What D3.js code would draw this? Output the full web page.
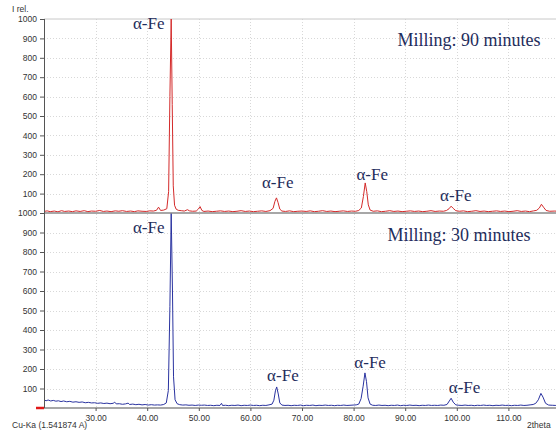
<!DOCTYPE html>
<html>
<head>
<meta charset="utf-8">
<script src="https://cdn.jsdelivr.net/npm/d3@7"></script>
<style>
  body { margin: 0; background: #fff; }
  svg { display: block; }
</style>
</head>
<body>
<svg width="556" height="434"></svg>
<script>
// 2theta range and tick labels
const xTicks = [30, 40, 50, 60, 70, 80, 90, 100, 110];
const yTicks = [100, 200, 300, 400, 500, 600, 700, 800, 900, 1000];

// Milling 90 minutes, [2theta, I rel.]
const mill90 = [
  [20, 8], [20.6, 11], [21.2, 7], [22, 10], [22.7, 6], [23.4, 12], [24, 8], [24.8, 10],
  [25.5, 7], [26.2, 11], [27, 8], [27.8, 12], [28.5, 7], [29.2, 10], [30, 9], [30.8, 13],
  [31.5, 8], [32.2, 10], [33, 7], [33.8, 11], [34.5, 9], [35.2, 12], [36, 8], [36.8, 10],
  [37.5, 7], [38.2, 11], [39, 9], [39.8, 8], [40.5, 11], [41.2, 10], [41.8, 14], [42.2, 30],
  [42.6, 13], [43.2, 15], [43.8, 22], [44.15, 110], [44.4, 600], [44.65, 1000], [44.85, 560],
  [45.05, 140], [45.3, 40], [45.6, 20], [46, 14], [46.6, 12], [47.2, 10], [47.8, 17], [48.2, 11],
  [48.8, 9], [49.5, 10], [49.9, 20], [50.25, 33], [50.6, 13], [51, 8], [51.8, 10], [52.6, 7],
  [53.4, 9], [54.2, 11], [55, 8], [55.8, 10], [56.6, 7], [57.4, 9], [58.2, 12], [59, 8],
  [59.8, 10], [60.6, 7], [61.4, 9], [62.2, 11], [63, 8], [63.8, 12], [64.4, 24], [64.75, 60],
  [65.05, 78], [65.35, 55], [65.7, 20], [66.1, 10], [66.8, 8], [67.6, 11], [68.4, 7], [69.2, 9],
  [70, 10], [70.8, 8], [71.6, 11], [72.4, 7], [73.2, 9], [74, 12], [74.8, 8], [75.6, 10],
  [76.4, 7], [77.2, 9], [78, 11], [78.8, 8], [79.6, 10], [80.4, 9], [81, 13], [81.5, 26],
  [81.9, 85], [82.25, 155], [82.55, 110], [82.85, 42], [83.2, 15], [83.8, 9], [84.6, 11], [85.4, 7],
  [86.2, 9], [87, 12], [87.8, 8], [88.6, 10], [89.4, 7], [90.2, 9], [91, 11], [91.8, 8],
  [92.6, 10], [93.4, 7], [94.2, 9], [95, 12], [95.8, 8], [96.6, 10], [97.4, 9], [98, 13],
  [98.5, 22], [98.9, 35], [99.3, 24], [99.8, 12], [100.5, 9], [101.3, 11], [102.1, 7], [102.9, 9],
  [103.7, 12], [104.5, 8], [105.3, 10], [106.1, 7], [106.9, 9], [107.7, 11], [108.5, 8], [109.3, 10],
  [110.1, 7], [110.9, 9], [111.7, 12], [112.5, 8], [113.3, 10], [114.1, 7], [114.9, 11], [115.5, 14],
  [116, 26], [116.4, 45], [116.8, 30], [117.3, 13], [118, 9], [119, 10], [120, 8]
];

// Milling 30 minutes, [2theta, I rel.]
const mill30 = [
  [20, 42], [20.4, 37], [20.8, 41], [21.3, 36], [21.8, 39], [22.3, 35], [22.8, 37], [23.3, 33],
  [23.8, 36], [24.4, 32], [25, 34], [25.6, 30], [26.2, 32], [26.8, 29], [27.4, 31], [28, 27],
  [28.6, 29], [29.2, 26], [29.8, 27], [30.4, 24], [31, 26], [31.6, 23], [32.2, 25], [32.8, 22],
  [33.4, 24], [33.7, 30], [34, 21], [34.6, 22], [35.2, 19], [35.8, 21], [36.3, 25], [36.6, 18],
  [37.2, 20], [37.8, 17], [38.4, 19], [39, 16], [39.6, 18], [40.2, 15], [40.8, 17], [41.4, 15],
  [42, 16], [42.6, 15], [43.2, 18], [43.7, 26], [44.1, 90], [44.4, 520], [44.65, 1000],
  [44.9, 600], [45.1, 160], [45.4, 42], [45.8, 22], [46.3, 17], [46.9, 15], [47.5, 16], [48.1, 14],
  [48.7, 15], [49.3, 13], [49.9, 15], [50.5, 14], [51.1, 15], [51.7, 13], [52.3, 14], [52.9, 12],
  [53.5, 14], [54.1, 13], [54.4, 24], [54.6, 13], [55.2, 14], [55.8, 12], [56.4, 14], [57, 13],
  [57.6, 15], [58.2, 12], [58.8, 14], [59.4, 13], [60, 15], [60.6, 13], [61.2, 14], [61.8, 12],
  [62.4, 14], [63, 13], [63.6, 16], [64.2, 20], [64.55, 40], [64.85, 88], [65.1, 108], [65.4, 72],
  [65.7, 26], [66.1, 15], [66.7, 13], [67.3, 14], [67.9, 12], [68.5, 14], [69.1, 13], [69.7, 15],
  [70.3, 12], [70.9, 14], [71.5, 13], [72.1, 15], [72.7, 12], [73.3, 14], [73.9, 13], [74.5, 15],
  [75.1, 13], [75.7, 14], [76.3, 12], [76.9, 14], [77.5, 13], [78.1, 15], [78.7, 13], [79.3, 14],
  [79.9, 15], [80.5, 16], [81, 20], [81.45, 48], [81.85, 112], [82.2, 180], [82.5, 135],
  [82.8, 52], [83.2, 20], [83.7, 14], [84.3, 13], [84.9, 15], [85.5, 13], [86.1, 14], [86.7, 12],
  [87.3, 14], [87.9, 13], [88.5, 15], [89.1, 12], [89.7, 14], [90.3, 13], [90.9, 15], [91.5, 13],
  [92.1, 14], [92.7, 12], [93.3, 14], [93.9, 13], [94.5, 15], [95.1, 13], [95.7, 14], [96.3, 13],
  [96.9, 15], [97.5, 14], [98.1, 18], [98.55, 36], [98.9, 50], [99.3, 30], [99.8, 16], [100.4, 14],
  [101, 13], [101.6, 15], [102.2, 13], [102.8, 14], [103.4, 12], [104, 14], [104.6, 13], [105.2, 15],
  [105.8, 13], [106.4, 14], [107, 12], [107.6, 14], [108.2, 13], [108.8, 15], [109.4, 13], [110, 14],
  [110.6, 12], [111.2, 14], [111.8, 13], [112.4, 15], [113, 13], [113.6, 14], [114.2, 16], [114.8, 18],
  [115.3, 24], [115.8, 42], [116.3, 75], [116.7, 56], [117.2, 24], [117.8, 15], [118.5, 14],
  [119.2, 13], [120, 12]
];

// peak labels [2theta, I rel.]
const labels90 = [[40.3, 950], [65.3, 128], [83.6, 170], [99.8, 63]];
const labels30 = [[40.3, 900], [66.3, 138], [83.2, 205], [101.5, 75]];
const titles = ['Milling: 90 minutes', 'Milling: 30 minutes'];

const svg = d3.select('svg');
const left = 44;

const x = d3.scaleLinear().domain([20, 120]).range([left, 560]);
const yTop = d3.scaleLinear().domain([0, 1000]).range([213, 19]);
const yBot = d3.scaleLinear().domain([0, 1000]).range([408, 213]);

// dotted grid
const grid = svg.append('g')
    .attr('stroke', '#d8d8d8')
    .attr('stroke-dasharray', '1,2')
    .attr('stroke-width', 1);

grid.selectAll('line.v')
    .data(xTicks)
    .enter()
    .append('line')
    .attr('x1', d => Math.round(x(d)) + 0.5)
    .attr('x2', d => Math.round(x(d)) + 0.5)
    .attr('y1', yTop(1000))
    .attr('y2', yBot(0));

[yTop, yBot].forEach(y => {
  grid.selectAll(null)
      .data(yTicks.slice(0, -1))
      .enter()
      .append('line')
      .attr('x1', left)
      .attr('x2', 556)
      .attr('y1', d => Math.round(y(d)) + 0.5)
      .attr('y2', d => Math.round(y(d)) + 0.5);
});

// top border line
svg.append('line')
    .attr('x1', left).attr('x2', 556)
    .attr('y1', yTop(1000)).attr('y2', yTop(1000))
    .attr('stroke', '#c8c8c8');

const line = y => d3.line()
    .x(d => x(d[0]))
    .y(d => y(d[1]));

svg.append('path')
    .datum(mill90)
    .attr('fill', 'none')
    .attr('stroke', '#d42a2a')
    .attr('stroke-width', 1)
    .attr('d', line(yTop));

svg.append('path')
    .datum(mill30)
    .attr('fill', 'none')
    .attr('stroke', '#2a33a0')
    .attr('stroke-width', 1)
    .attr('d', line(yBot));

// baselines
svg.append('line')
    .attr('x1', left).attr('x2', 556)
    .attr('y1', yTop(0)).attr('y2', yTop(0))
    .attr('stroke', '#8a8a8a').attr('stroke-width', 1.5);
svg.append('line')
    .attr('x1', left).attr('x2', 556)
    .attr('y1', yBot(0)).attr('y2', yBot(0))
    .attr('stroke', '#8a8a8a').attr('stroke-width', 1.5);
svg.append('line')
    .attr('x1', 36).attr('x2', left)
    .attr('y1', yBot(0)).attr('y2', yBot(0))
    .attr('stroke', '#e01818').attr('stroke-width', 2.5);

// axes
const styleAxis = g => {
  g.select('.domain').remove();
  g.selectAll('.tick line').attr('stroke', '#555');
  g.selectAll('.tick text')
      .attr('fill', '#333')
      .style('font-family', 'Liberation Sans, Arial, sans-serif')
      .style('font-size', '8.5px');
};

[yTop, yBot].forEach(y => {
  svg.append('g')
      .attr('transform', `translate(${left},0)`)
      .call(d3.axisLeft(y).tickValues(yTicks).tickFormat(d3.format('d'))
          .tickSize(4).tickPadding(3))
      .call(styleAxis);
});

svg.append('line')
    .attr('x1', left + 0.5).attr('x2', left + 0.5)
    .attr('y1', yTop(1000)).attr('y2', yBot(0))
    .attr('stroke', '#555');

svg.append('g')
    .attr('transform', `translate(0,${yBot(0)})`)
    .call(d3.axisBottom(x).tickValues(xTicks).tickFormat(d3.format('.2f'))
        .tickSize(3).tickPadding(4))
    .call(styleAxis);

const small = sel => sel
    .attr('fill', '#333')
    .style('font-family', 'Liberation Sans, Arial, sans-serif')
    .style('font-size', '8.5px');

svg.append('text').attr('x', 12).attr('y', 12).text('I rel.').call(small);
svg.append('text').attr('x', 12).attr('y', 428).text('Cu-Ka (1.541874 A)').call(small);
svg.append('text').attr('x', 527).attr('y', 428).text('2theta').call(small);

// annotations
const serif = sel => sel
    .attr('fill', '#1f2d5c')
    .attr('text-anchor', 'middle')
    .style('font-family', 'Liberation Serif, Times New Roman, serif');

[[labels90, yTop], [labels30, yBot]].forEach(([lab, y]) => {
  svg.selectAll(null)
      .data(lab)
      .enter()
      .append('text')
      .attr('x', d => x(d[0]))
      .attr('y', d => y(d[1]))
      .style('font-size', '17px')
      .text('α-Fe')
      .call(serif);
});

svg.append('text')
    .attr('x', 469).attr('y', 46)
    .style('font-size', '18px')
    .text(titles[0])
    .call(serif);
svg.append('text')
    .attr('x', 459).attr('y', 241)
    .style('font-size', '18px')
    .text(titles[1])
    .call(serif);
</script>
</body>
</html>
